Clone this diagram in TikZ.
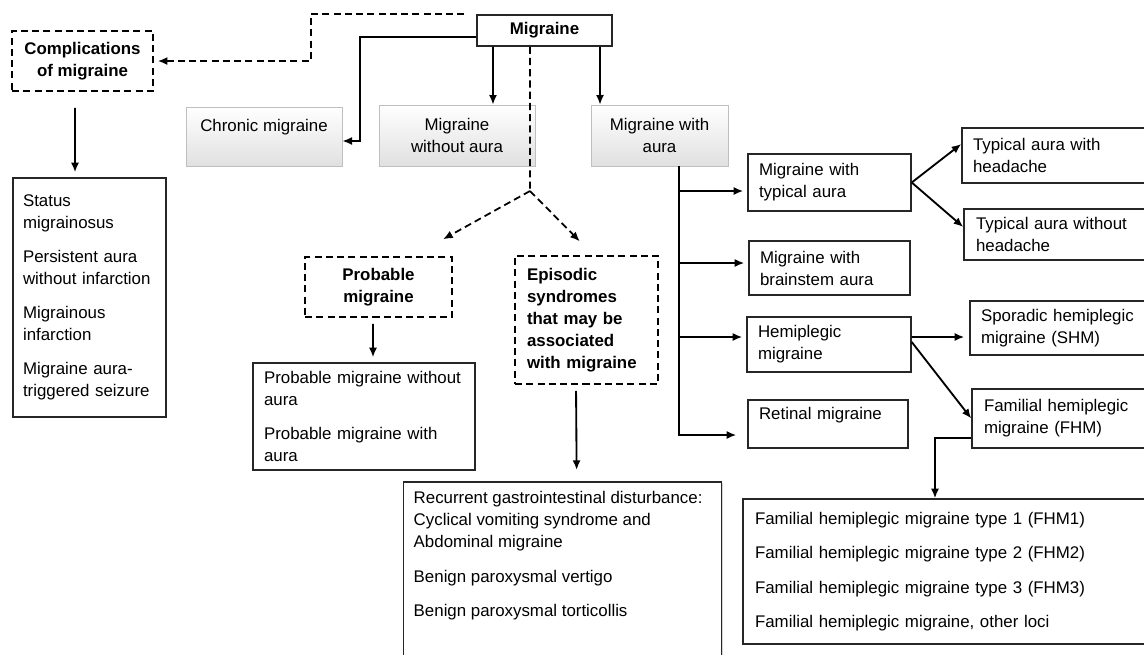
\documentclass[tikz,border=0pt]{standalone}
\usepackage{fontspec}
\setmainfont{Liberation Sans}
\usepackage{xcolor}
\usepackage{tikz}
\usetikzlibrary{shapes,arrows.meta,positioning,calc,shadows}
\newcommand{\diagfont}{\fontsize{9.6}{12.5}\selectfont}
\tikzstyle{graybox} = [rectangle, draw=gray!50, top color=white, bottom color=gray!24, drop shadow={shadow xshift=0.8pt, shadow yshift=-0.8pt, opacity=0.3}, align=center, inner sep=0pt]
\tikzstyle{dashbox} = [rectangle, draw, line width=0.9pt, dash pattern=on 4pt off 2.4pt, font=\diagfont\bfseries, inner sep=0pt]
\tikzstyle{plainbox} = [rectangle, draw=black!85, line width=0.85pt, fill=white, drop shadow={shadow xshift=0.7pt, shadow yshift=-0.7pt, opacity=0.35}, align=left, inner xsep=0.22cm, inner ysep=0pt]
\tikzstyle{arrow} = [line width=1.05pt, -{Latex[length=5.5pt,width=4.6pt]}]
\tikzstyle{dasharrow} = [arrow, line width=1pt, dash pattern=on 4pt off 2.4pt]

\begin{document}
\begin{tikzpicture}[x=0.02cm, y=-0.02cm, font=\diagfont]
\useasboundingbox (0,0) rectangle (1144,654);
\clip (0,0) rectangle (1144,654);

% Root
\node (mig) [plainbox, font=\diagfont\bfseries, align=center, minimum width=2.7cm, minimum height=0.62cm] at (544.5,30.5) {Migraine};

% First level
\node (compl) [dashbox, align=center, minimum width=2.82cm, minimum height=1.2cm] at (82.5,61) {Complications\\of migraine};
\node (chronic) [graybox, minimum width=3.12cm, minimum height=1.18cm] at (264,136.5) {Chronic migraine\\\mbox{}};
\node (noaura) [graybox, minimum width=3.12cm, minimum height=1.22cm] at (457,135.5) {Migraine\\without aura};
\node (withaura) [graybox, minimum width=2.74cm, minimum height=1.22cm] at (659.5,135.5) {Migraine with\\aura};

% Complications
\node (status) [plainbox, text width=2.66cm, inner xsep=0.2cm, minimum height=4.78cm] at (89.5,297.5) {Status\\migrainosus\\[7pt]Persistent aura\\without infarction\\[7pt]Migrainous\\infarction\\[7pt]Migraine aura-\\triggered seizure};

% Probable and episodic
\node (probable) [dashbox, align=center, minimum width=2.94cm, minimum height=1.2cm] at (378.5,287) {Probable\\migraine};
\node (episodic) [dashbox, align=left, text width=2.38cm, inner xsep=0.24cm, minimum height=2.56cm] at (586.5,320) {Episodic\\syndromes\\that may be\\associated\\with migraine};
\node (problist) [plainbox, text width=4.0cm, minimum height=2.14cm] at (364,416.5) {Probable migraine without\\aura\\[7pt]Probable migraine with\\aura};
\node (gilist) [plainbox, anchor=north west, inner xsep=0.2cm, inner ysep=0.2cm] at (403,481) {\parbox[t][4.2cm][t]{5.96cm}{\raggedright Recurrent gastrointestinal disturbance:\\Cyclical vomiting syndrome and\\Abdominal migraine\\[7pt]Benign paroxysmal vertigo\\[7pt]Benign paroxysmal torticollis}};

% With aura
\node (typ) [plainbox, text width=2.82cm, minimum height=1.14cm] at (829.5,182.5) {Migraine with\\typical aura};
\node (brain) [plainbox, text width=2.78cm, minimum height=1.08cm] at (829.5,268) {Migraine with\\brainstem aura};
\node (hemi) [plainbox, text width=2.84cm, minimum height=1.1cm] at (829,344.5) {Hemiplegic\\migraine};
\node (retinal) [plainbox, text width=2.76cm, minimum height=0.96cm] at (828,424) {Retinal migraine\\\mbox{}};
\node (tawh) [plainbox, text width=3.72cm, minimum height=1.1cm] at (1066,155.5) {Typical aura with\\headache};
\node (tawoh) [plainbox, text width=3.68cm, inner xsep=0.24cm, minimum height=1.02cm] at (1068,234.5) {Typical aura without\\headache};
\node (shm) [plainbox, text width=3.76cm, minimum height=1.08cm] at (1075,328) {Sporadic hemiplegic\\migraine (SHM)};
\node (fhm) [plainbox, text width=3.7cm, inner xsep=0.24cm, minimum height=1.18cm] at (1076.5,418.5) {Familial hemiplegic\\migraine (FHM)};
\node (fhmlist) [plainbox, text width=8.26cm, inner xsep=0.24cm, minimum height=2.9cm] at (961.5,571.5) {Familial hemiplegic migraine type 1 (FHM1)\\[7pt]Familial hemiplegic migraine type 2 (FHM2)\\[7pt]Familial hemiplegic migraine type 3 (FHM3)\\[7pt]Familial hemiplegic migraine, other loci};

% Arrows from root
\draw [dasharrow, shorten >=0.08cm] ([xshift=-0.24cm]mig.north west) -| ([xshift=3.14cm]compl.east) -- (compl.east);
\draw [arrow] ([yshift=-0.13cm]mig.west) -| ([xshift=0.36cm,yshift=-0.09cm]chronic.east) -- ([yshift=-0.09cm]chronic.east);
\draw [arrow] ([xshift=-1.03cm]mig.south) -- ([xshift=0.72cm]noaura.north);
\draw [arrow] ([xshift=1.11cm]mig.south) -- ([xshift=-1.19cm]withaura.north);
\coordinate (branch) at (530,191);
\draw [dasharrow, -] ([xshift=-0.29cm]mig.south) -- (branch);
\draw [dasharrow, shorten >=0.7cm] (branch) -- ([xshift=0.68cm]probable.north);
\draw [dasharrow, shorten >=0.39cm] (branch) -- ([xshift=0.14cm]episodic.north);

% Down to the lists
\draw [arrow, shorten <=0.32cm, shorten >=0.1cm] ([xshift=-0.15cm]compl.south) -- ([xshift=-0.29cm]status.north);
\draw [arrow, shorten <=0.12cm, shorten >=0.1cm] ([xshift=-0.11cm]probable.south) -- ([xshift=0.18cm]problist.north);
\draw [arrow, shorten <=0.12cm, shorten >=0.22cm] ([xshift=-0.21cm]episodic.south) -- ([xshift=0.28cm]gilist.north);

% With aura branches
\coordinate (trunk) at ([xshift=0.39cm]withaura.south);
\draw [arrow, shorten >=0.08cm] (trunk) |- ([yshift=-0.17cm]typ.west);
\draw [arrow, shorten >=0.08cm] (trunk) |- ([yshift=0.1cm]brain.west);
\draw [arrow, shorten >=0.08cm] (trunk) |- ([yshift=0.15cm]hemi.west);
\draw [arrow, shorten >=0.22cm] (trunk) |- ([yshift=-0.22cm]retinal.west);
\draw [arrow] (typ.east) -- ([yshift=0.23cm]tawh.west);
\draw [arrow] (typ.east) -- ([yshift=0.15cm]tawoh.west);
\draw [arrow, shorten >=0.1cm] ([yshift=0.15cm]hemi.east) -- ([yshift=-0.18cm]shm.west);
\draw [arrow] ([yshift=0.05cm]hemi.east) -- (fhm.west);
\draw [arrow] ([yshift=-0.39cm]fhm.west) -| ([xshift=-0.53cm]fhmlist.north);

\end{tikzpicture}
\end{document}
